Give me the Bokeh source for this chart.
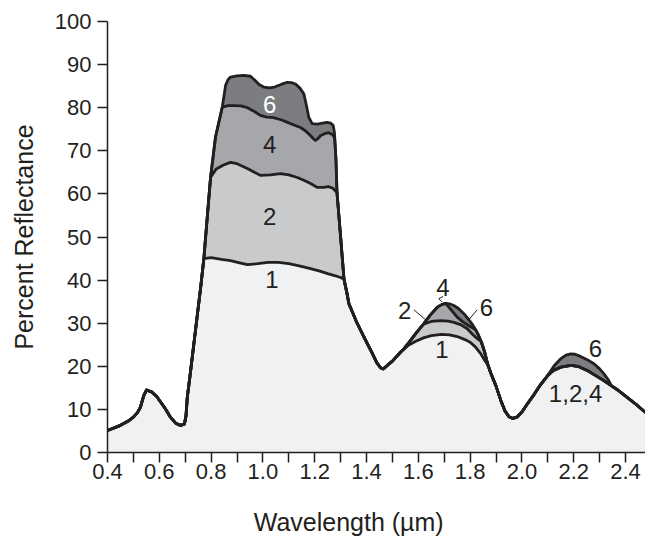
from bokeh.plotting import figure
from bokeh.models import FixedTicker, PrintfTickFormatter, Label, LinearAxis
from bokeh.embed import file_html
from bokeh.resources import INLINE

# ---- spectral reflectance, curve 1 (full wavelength range, micrometres / percent)
wl_1 = [0.40, 0.45, 0.48, 0.50, 0.515, 0.527, 0.54, 0.551, 0.572, 0.59, 0.605, 0.624,
        0.643, 0.663, 0.682, 0.697, 0.703, 0.708, 0.72, 0.74, 0.76, 0.772,
        0.80, 0.84, 0.875, 0.91, 0.94, 0.98, 1.02, 1.06, 1.10, 1.14, 1.18, 1.22,
        1.25, 1.28, 1.30, 1.313, 1.325, 1.332, 1.36, 1.39, 1.42, 1.44, 1.455, 1.465,
        1.48, 1.50, 1.53, 1.56, 1.59, 1.62, 1.65, 1.69, 1.72, 1.75, 1.78, 1.80,
        1.82, 1.84, 1.855, 1.868, 1.88, 1.90, 1.92, 1.935, 1.95, 1.965, 1.98, 2.00,
        2.02, 2.045, 2.07, 2.10, 2.12, 2.15, 2.19, 2.22, 2.25, 2.28, 2.31, 2.34,
        2.37, 2.40, 2.44, 2.477]
rf_1 = [5.1, 6.3, 7.3, 8.2, 9.2, 10.5, 13.2, 14.5, 14.0, 13.0, 11.7, 10.1,
        8.2, 6.8, 6.3, 6.6, 8.5, 12.8, 18.5, 28.5, 38.5, 45.0,
        45.2, 44.8, 44.5, 44.0, 43.6, 43.8, 44.1, 44.1, 43.8, 43.3, 42.7, 42.1,
        41.5, 41.0, 40.6, 40.2, 36.8, 34.5, 30.5, 26.8, 23.3, 20.8, 19.6, 19.4,
        20.2, 21.2, 23.2, 24.8, 25.8, 26.6, 27.1, 27.4, 27.3, 26.9, 26.2, 25.6,
        24.5, 23.0, 21.5, 20.4, 18.4, 15.4, 11.8, 9.6, 8.3, 7.9, 8.2, 9.4,
        11.2, 13.3, 15.6, 17.9, 19.0, 19.8, 20.2, 19.9, 19.1, 18.0, 16.9, 15.7,
        14.5, 13.1, 11.2, 9.3]

# ---- curve 2: where it departs from curve 1
wl_2a = [0.772, 0.785, 0.798, 0.82, 0.848, 0.875, 0.90, 0.94, 0.99, 1.03, 1.068,
         1.10, 1.133, 1.16, 1.184, 1.21, 1.235, 1.253, 1.27, 1.286, 1.30, 1.313]
rf_2a = [45.0, 54.5, 63.9, 65.8, 66.7, 67.3, 67.0, 65.9, 64.3, 64.4, 64.7,
         64.4, 63.8, 63.1, 62.4, 61.5, 61.5, 61.7, 61.3, 60.3, 50.0, 40.2]
wl_2b = [1.545, 1.57, 1.595, 1.62, 1.65, 1.686, 1.715, 1.737, 1.765, 1.789, 1.81,
         1.828, 1.843, 1.855, 1.868]
rf_2b = [24.1, 26.0, 28.0, 29.8, 30.4, 30.6, 30.5, 30.2, 29.6, 28.7, 27.4,
         26.4, 25.7, 23.5, 20.4]

# ---- curve 4: where it departs from curve 2
wl_4a = [0.798, 0.817, 0.843, 0.865, 0.887, 0.915, 0.94, 0.965, 0.99, 1.015, 1.04,
         1.07, 1.095, 1.12, 1.145, 1.165, 1.184, 1.195, 1.203, 1.212, 1.222, 1.24,
         1.253, 1.268, 1.277, 1.282, 1.286]
rf_4a = [63.9, 73.2, 80.1, 80.5, 80.5, 80.4, 80.0, 79.2, 78.2, 77.8, 77.7,
         77.2, 76.6, 76.0, 75.4, 74.6, 73.5, 72.8, 72.4, 72.8, 73.5, 74.0,
         74.2, 73.8, 73.0, 68.0, 60.3]
wl_4b = [1.62, 1.645, 1.673, 1.69, 1.705, 1.728, 1.75, 1.772, 1.795, 1.81, 1.822,
         1.833, 1.843]
rf_4b = [29.8, 31.8, 33.7, 34.3, 34.6, 33.0, 31.4, 30.3, 29.4, 28.9, 28.4,
         27.1, 25.7]

# ---- curve 6: where it departs from curve 4
wl_6a = [0.843, 0.856, 0.865, 0.875, 0.90, 0.925, 0.952, 0.97, 0.985, 1.003, 1.025,
         1.045, 1.07, 1.094, 1.11, 1.126, 1.142, 1.158, 1.168, 1.177, 1.19, 1.21,
         1.23, 1.248, 1.262, 1.271, 1.276, 1.282]
rf_6a = [80.1, 85.2, 86.5, 87.1, 87.4, 87.5, 87.3, 86.3, 85.4, 84.8, 84.6,
         84.8, 85.4, 85.9, 85.8, 85.5, 84.6, 83.2, 80.5, 77.8, 76.3, 76.2,
         76.4, 76.6, 76.4, 75.9, 74.3, 68.0]
wl_6b = [1.705, 1.72, 1.737, 1.755, 1.776, 1.795, 1.81, 1.822]
rf_6b = [34.6, 34.5, 34.1, 33.4, 32.2, 30.8, 29.6, 28.4]
wl_6c = [2.10, 2.125, 2.149, 2.17, 2.188, 2.205, 2.226, 2.25, 2.278, 2.30, 2.316,
         2.332, 2.345]
rf_6c = [17.9, 20.2, 21.7, 22.6, 22.9, 22.8, 22.3, 21.6, 20.6, 19.4, 18.3,
         17.0, 15.5]

x_ticks = [0.4, 0.6, 0.8, 1.0, 1.2, 1.4, 1.6, 1.8, 2.0, 2.2, 2.4]
x_minor = [0.5, 0.7, 0.9, 1.1, 1.3, 1.5, 1.7, 1.9, 2.1, 2.3]
y_ticks = [0, 10, 20, 30, 40, 50, 60, 70, 80, 90, 100]


def splice(bx, by, sx, sy):
    """Replace the stretch of a base curve covered by a segment with that segment."""
    lo, hi = sx[0], sx[-1]
    left = [(x, y) for x, y in zip(bx, by) if x < lo]
    right = [(x, y) for x, y in zip(bx, by) if x > hi]
    pts = left + list(zip(sx, sy)) + right
    return [p[0] for p in pts], [p[1] for p in pts]


wl_2, rf_2 = splice(wl_1, rf_1, wl_2a, rf_2a)
wl_2, rf_2 = splice(wl_2, rf_2, wl_2b, rf_2b)
wl_4, rf_4 = splice(wl_2, rf_2, wl_4a, rf_4a)
wl_4, rf_4 = splice(wl_4, rf_4, wl_4b, rf_4b)
wl_6, rf_6 = splice(wl_4, rf_4, wl_6a, rf_6a)
wl_6, rf_6 = splice(wl_6, rf_6, wl_6b, rf_6b)
wl_6, rf_6 = splice(wl_6, rf_6, wl_6c, rf_6c)

INK = "#231f20"
FONT = "Liberation Sans"

p = figure(width=645, height=538, x_range=(0.4, 2.477), y_range=(0, 100),
           output_backend="svg", toolbar_location=None,
           min_border_left=107, min_border_right=0, min_border_top=21,
           min_border_bottom=86)
p.outline_line_color = None
p.xgrid.visible = False
p.ygrid.visible = False
p.background_fill_color = "white"
p.border_fill_color = "white"

# stacked bands: darkest first, lighter ones painted over it
for xs, ys, col in [(wl_6, rf_6, "#7c7d80"), (wl_4, rf_4, "#a6a7aa"),
                    (wl_2, rf_2, "#c9cacc"), (wl_1, rf_1, "#f0f1f3")]:
    p.varea(x=xs, y1=0, y2=ys, fill_color=col)

for xs, ys in [(wl_6, rf_6), (wl_4, rf_4), (wl_2, rf_2), (wl_1, rf_1)]:
    p.line(xs, ys, line_color=INK, line_width=2.8, line_join="round")

# leader lines for the labels on the 1.7 um peak
p.line([1.583, 1.628], [33.1, 30.8], line_color=INK, line_width=1)
p.line([1.696, 1.679, 1.692], [36.2, 35.7, 34.9], line_color=INK, line_width=1)
p.line([1.827, 1.795], [33.1, 30.8], line_color=INK, line_width=1)

# axes
xa = p.xaxis[0]
ya = p.yaxis[0]
for ax in (xa, ya):
    ax.axis_line_color = INK
    ax.axis_line_width = 1.5
    ax.major_tick_line_color = INK
    ax.major_tick_line_width = 1.5
    ax.minor_tick_line_color = INK
    ax.minor_tick_line_width = 1.5
    ax.major_tick_out = 10
    ax.major_tick_in = 0
    ax.minor_tick_out = 10
    ax.minor_tick_in = 0
    ax.major_label_text_font = FONT
    ax.major_label_text_font_size = "22px"
    ax.major_label_text_color = INK

xa.ticker = FixedTicker(ticks=x_ticks, minor_ticks=x_minor)
xa.formatter = PrintfTickFormatter(format="%.1f")
xa.major_label_standoff = 1
ya.ticker = FixedTicker(ticks=y_ticks)
ya.major_label_standoff = 6

ya.axis_label = "Percent Reflectance"
ya.axis_label_text_font = FONT
ya.axis_label_text_font_size = "25px"
ya.axis_label_text_font_style = "normal"
ya.axis_label_text_color = INK
ya.axis_label_standoff = 14

# bare axis that only carries the wavelength title; the trailing no-break
# spaces pull the centred title a little to the left of the frame centre
title_axis = LinearAxis(ticker=FixedTicker(ticks=[]),
                        axis_line_color=None, major_tick_line_color=None,
                        minor_tick_line_color=None, major_tick_out=0, minor_tick_out=0,
                        major_label_standoff=0,
                        axis_label="Wavelength (µm)" + "\u00a0" * 8,
                        axis_label_standoff=26,
                        axis_label_text_font=FONT, axis_label_text_font_size="25px",
                        axis_label_text_font_style="normal", axis_label_text_color=INK)
p.add_layout(title_axis, "below")

# curve numbers
labels = [
    (1.026, 80.7, "6", "white"),
    (1.026, 71.4, "4", INK),
    (1.026, 54.8, "2", INK),
    (1.035, 40.1, "1", INK),
    (1.547, 32.9, "2", INK),
    (1.695, 38.2, "4", INK),
    (1.863, 33.7, "6", INK),
    (1.691, 23.9, "1", INK),
    (2.284, 24.1, "6", INK),
    (2.207, 13.8, "1,2,4", INK),
]
for x, y, t, c in labels:
    p.add_layout(Label(x=x, y=y, text=t, text_align="center",
                       text_baseline="middle", text_font=FONT,
                       text_font_size="24px", text_color=c))

open("out.html", "w").write(file_html(p, INLINE))
